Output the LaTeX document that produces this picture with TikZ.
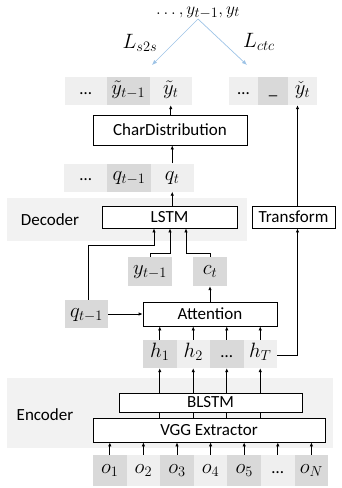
\documentclass[tikz,border=0pt]{standalone}
\usepackage{fontspec}
\setmainfont{Carlito}
\usetikzlibrary{arrows.meta}
\definecolor{lightc}{HTML}{EFEFEF}
\definecolor{darkc}{HTML}{D9D9D9}
\definecolor{bgc}{HTML}{F2F2F2}
\definecolor{bluec}{HTML}{9DC3E6}
\tikzset{
  every node/.style={font=\fontsize{17}{19}\selectfont},
  mfont/.style={font=\fontsize{20}{22}\selectfont},
  box/.style={draw=black, line width=0.8pt, fill=white, inner sep=0pt},
  lcell/.style={fill=lightc, inner sep=0pt, minimum height=28, mfont, text height=10, text depth=4},
  dcell/.style={fill=darkc, inner sep=0pt, minimum height=28, mfont, text height=10, text depth=4},
  arr/.style={line width=0.8pt, -{Latex[length=4pt,width=3.5pt]}},
  ln/.style={line width=0.8pt},
  barr/.style={draw=bluec, line width=0.7pt, -{Latex[length=5pt,width=4pt]}},
}
\begin{document}
\begin{tikzpicture}[x=1pt,y=-1pt]
\useasboundingbox (0,0) rectangle (342,488);
% backgrounds
\fill[bgc] (7,198) rectangle (247,241);
\fill[bgc] (7,378) rectangle (333,448);
\node (declab) at (50,220) {Decoder};
\node (enclab) at (45,415) {Encoder};
% top
\node[font=\fontsize{19}{21}\selectfont, anchor=base, inner sep=0pt] (top) at (198,14) {$\ldots, y_{t-1}, y_t$};
\coordinate (apex) at (198,19);
\coordinate (lend) at (152,65);
\coordinate (rend) at (247,65);
\draw[barr] (apex) -- (lend);
\draw[barr] (apex) -- (rend);
\node[mfont] (ls2s) at (140,43) {$L_{s2s}$};
\node[mfont] (lctc) at (259,42) {$L_{ctc}$};
% left output row
\node[lcell, minimum width=42.5] (y1) at (85.75,91) {\fontsize{17}{19}\selectfont\ldots};
\node[dcell, minimum width=42.5] (y2) at (128.25,91) {$\tilde{y}_{t-1}$};
\node[lcell, minimum width=42.5] (y3) at (170.75,91) {$\tilde{y}_{t}$};
% right output row
\node[lcell, minimum width=29] (c1) at (243.5,91) {\fontsize{17}{19}\selectfont\ldots};
\node[dcell, minimum width=30] (c2) at (273,91) {\fontsize{17}{19}\selectfont\_};
\node[lcell, minimum width=29] (c3) at (302.5,91) {$\check{y}_{t}$};
% CharDistribution
\node[box, minimum width=154, minimum height=30] (cd) at (170,130) {CharDistribution};
% q row
\node[lcell, minimum width=43.3] (q1) at (85.65,177.5) {\fontsize{17}{19}\selectfont\ldots};
\node[dcell, minimum width=43.3] (q2) at (128.95,177.5) {$q_{t-1}$};
\node[lcell, minimum width=43.3] (q3) at (172.25,177.5) {$q_{t}$};
% LSTM and Transform
\node[box, minimum width=135, minimum height=22] (lstm) at (169.5,217) {LSTM};
\node[box, minimum width=83, minimum height=22] (tr) at (293.5,217) {Transform};
% y_{t-1}, c_t
\node[dcell, minimum width=44, minimum height=29] (yp) at (150,271.5) {$y_{t-1}$};
\node[dcell, minimum width=34, minimum height=29] (ct) at (210,271.5) {$c_t$};
% q_{t-1}
\node[dcell, minimum width=43, minimum height=28] (qp) at (86.5,314) {$q_{t-1}$};
% Attention
\node[box, minimum width=134, minimum height=24] (att) at (210,314) {Attention};
% h row
\node[dcell, minimum width=33.5] (h1) at (159.75,354) {$h_1$};
\node[lcell, minimum width=33.5] (h2) at (193.25,354) {$h_2$};
\node[dcell, minimum width=33.5] (h3) at (226.75,354) {\fontsize{17}{19}\selectfont\ldots};
\node[lcell, minimum width=33.5] (h4) at (260.25,354) {$h_T$};
% BLSTM, VGG
\node[box, minimum width=183, minimum height=19] (bl) at (210.5,402.5) {BLSTM};
\node[box, minimum width=232, minimum height=24] (vgg) at (209,430) {VGG Extractor};
% o row
\node[dcell, minimum width=33.6, minimum height=31] (o1) at (109.8,470.5) {$o_1$};
\node[lcell, minimum width=33.6, minimum height=31] (o2) at (143.4,470.5) {$o_2$};
\node[dcell, minimum width=33.6, minimum height=31] (o3) at (177.0,470.5) {$o_3$};
\node[lcell, minimum width=33.6, minimum height=31] (o4) at (210.6,470.5) {$o_4$};
\node[dcell, minimum width=33.6, minimum height=31] (o5) at (244.2,470.5) {$o_5$};
\node[lcell, minimum width=33.6, minimum height=31] (o6) at (277.8,470.5) {\fontsize{17}{19}\selectfont\ldots};
\node[dcell, minimum width=33.6, minimum height=31] (o7) at (311.4,470.5) {$o_N$};
% connectors
\draw[arr] (cd.north -| y3) -- (y3.south);
\draw[arr] (q3.north) -- (q3.north |- cd.south);
\draw[arr] (lstm.north -| q3) -- (q3.south);
\coordinate (rx) at (297.5,355);
\draw[arr] (rx |- tr.north) -- (rx |- c3.south);
\draw[arr] (h4.east |- rx) -- (rx) -- (rx |- tr.south);
% into LSTM
\coordinate (l1) at (154,245);
\coordinate (l2) at (170,253);
\coordinate (l3) at (186,253);
\draw[arr] (qp.north -| 88,0) -- (88,245) -- (l1) -- (l1 |- lstm.south);
\draw[arr] (yp.north) -- (yp.north |- l2) -- (l2) -- (l2 |- lstm.south);
\draw[arr] (ct.north) -- (ct.north |- l3) -- (l3) -- (l3 |- lstm.south);
\draw[arr] (att.north) -- (ct.south);
\draw[arr] (qp.east) -- (att.west);
% h into attention
\foreach \h in {h1,h2,h3,h4} {
  \draw[arr] (\h.north) -- (\h.north |- att.south);
  \draw[arr] (\h.north |- bl.north) -- (\h.south);
  \draw[ln] (\h.north |- vgg.north) -- (\h.north |- bl.south);
}
\foreach \o in {o1,o2,o3,o4,o5,o6,o7} {
  \draw[arr] (\o.north) -- (\o.north |- vgg.south);
}
\end{tikzpicture}
\end{document}
